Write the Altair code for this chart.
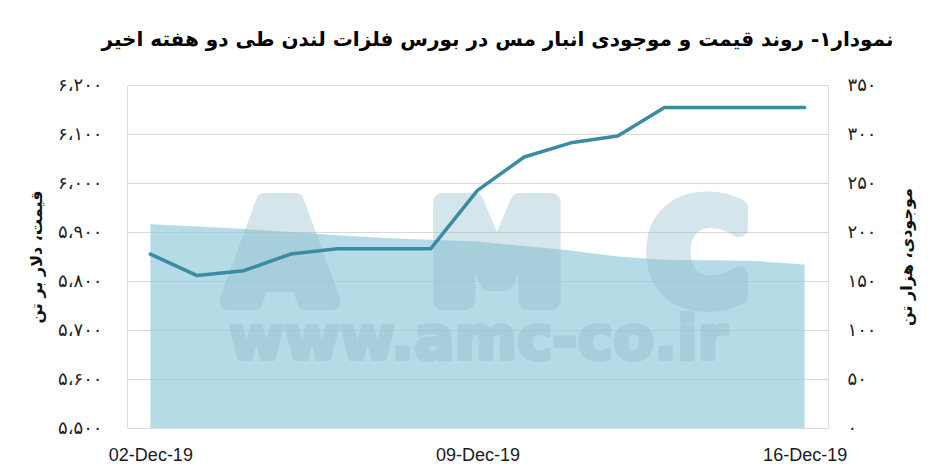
import altair as alt
import pandas as pd

# ---- data ----
dates = ["02-Dec-19", "03-Dec-19", "04-Dec-19", "05-Dec-19", "06-Dec-19",
         "07-Dec-19", "08-Dec-19", "09-Dec-19", "10-Dec-19", "11-Dec-19",
         "12-Dec-19", "13-Dec-19", "14-Dec-19", "15-Dec-19", "16-Dec-19"]
price = [5855, 5811, 5821, 5855, 5866, 5866, 5866, 5985, 6053, 6082,
         6096, 6154, 6154, 6154, 6154]
stock = [207.8, 205.5, 203.0, 199.9, 196.6, 193.8, 192.2, 190.2, 185.6, 181.0,
         174.9, 171.8, 171.3, 170.3, 166.9]

x_tick_values = ["02-Dec-19", "09-Dec-19", "16-Dec-19"]
left_ticks = [5500, 5600, 5700, 5800, 5900, 6000, 6100, 6200]
left_labels = ["۵،۵۰۰", "۵،۶۰۰", "۵،۷۰۰", "۵،۸۰۰", "۵،۹۰۰", "۶،۰۰۰", "۶،۱۰۰", "۶،۲۰۰"]
right_ticks = [0, 50, 100, 150, 200, 250, 300, 350]
right_labels = ["۰", "۵۰", "۱۰۰", "۱۵۰", "۲۰۰", "۲۵۰", "۳۰۰", "۳۵۰"]

title_text = "نمودار۱- روند قیمت و موجودی انبار مس در بورس فلزات لندن طی دو هفته اخیر"
left_title = "قیمت، دلار بر تن"
right_title = "موجودی، هزار تن"
watermark_letters = ["A", "M", "C"]
watermark_url = "www.amc-co.ir"

df = pd.DataFrame({"date": dates, "price": price, "stock": stock})


def label_expr(ticks, labels):
    expr = "''"
    for t, l in zip(reversed(ticks), reversed(labels)):
        expr = f"datum.value == {t} ? '{l}' : ({expr})"
    return expr


W, H = 701, 343
FA = "DejaVu Sans"

x_enc = alt.X("date:N", sort=dates,
              scale=alt.Scale(type="point", padding=0.5),
              axis=alt.Axis(values=x_tick_values, title=None, labelAngle=0,
                            ticks=False, domain=False, grid=False,
                            labelFont="Liberation Sans", labelFontSize=18,
                            labelColor="#1a1a1a", labelPadding=18))

area = alt.Chart(df).mark_area(color="#95cddb", opacity=0.7).encode(
    x=x_enc,
    y=alt.Y("stock:Q", scale=alt.Scale(domain=[0, 350], nice=False, zero=True),
            axis=alt.Axis(orient="right", values=right_ticks,
                          labelExpr=label_expr(right_ticks, right_labels),
                          grid=False, ticks=False, domain=False,
                          labelFont=FA, labelFontSize=18, labelColor="#222",
                          labelPadding=19, labelAlign="left",
                          title=right_title, titleFont=FA, titleFontSize=16,
                          titleFontWeight="bold", titleColor="#111",
                          titleAngle=270, titleX=78, titleY=H / 2,
                          titleAlign="center", titleBaseline="middle")),
)

wm_color = "#8fbccb"
wm_op = 0.38
wm_x = [153, 370, 571]
wm_layers = []
for letter, xp in zip(watermark_letters, wm_x):
    wm_layers.append(
        alt.Chart(pd.DataFrame({"t": [letter]})).mark_text(
            font=FA, fontWeight="bold", fontSize=135, color=wm_color,
            stroke=wm_color, strokeWidth=18, strokeJoin="round",
            opacity=wm_op, align="center", baseline="alphabetic").encode(
            text="t:N", x=alt.value(xp), y=alt.value(216))
    )
wm_layers.append(
    alt.Chart(pd.DataFrame({"t": [watermark_url]})).mark_text(
        font=FA, fontWeight="bold", fontSize=60, color=wm_color,
        stroke=wm_color, strokeWidth=4, strokeJoin="round",
        opacity=wm_op, align="center", baseline="alphabetic").encode(
        text="t:N", x=alt.value(351), y=alt.value(274))
)

line = alt.Chart(df).mark_line(color="#3a8ca2", strokeWidth=3.5,
                               strokeCap="round", strokeJoin="round").encode(
    x=x_enc,
    y=alt.Y("price:Q", scale=alt.Scale(domain=[5500, 6200], nice=False, zero=False),
            axis=alt.Axis(orient="left", values=left_ticks,
                          labelExpr=label_expr(left_ticks, left_labels),
                          grid=True, gridColor="#d9d9d9", gridWidth=1,
                          ticks=False, domain=False,
                          labelFont=FA, labelFontSize=18, labelColor="#222",
                          labelPadding=25,
                          title=left_title, titleFont=FA, titleFontSize=16,
                          titleFontWeight="bold", titleColor="#111",
                          titleAngle=270, titleX=-91, titleY=H / 2,
                          titleAlign="center", titleBaseline="middle")),
)

chart = alt.layer(area, *wm_layers, line).resolve_scale(
    y="independent"
).properties(
    width=W, height=H,
    padding={"left": 119, "top": 77, "right": 100, "bottom": 36},
    autosize=alt.AutoSizeParams(type="none"),
    title=alt.TitleParams(title_text, font=FA, fontSize=20, fontWeight="bold",
                          color="#000", anchor="middle", dx=20, offset=26),
).configure_view(stroke=None).configure(background="white")

chart.save("out.html", embed_options={"renderer": "svg", "actions": False})
